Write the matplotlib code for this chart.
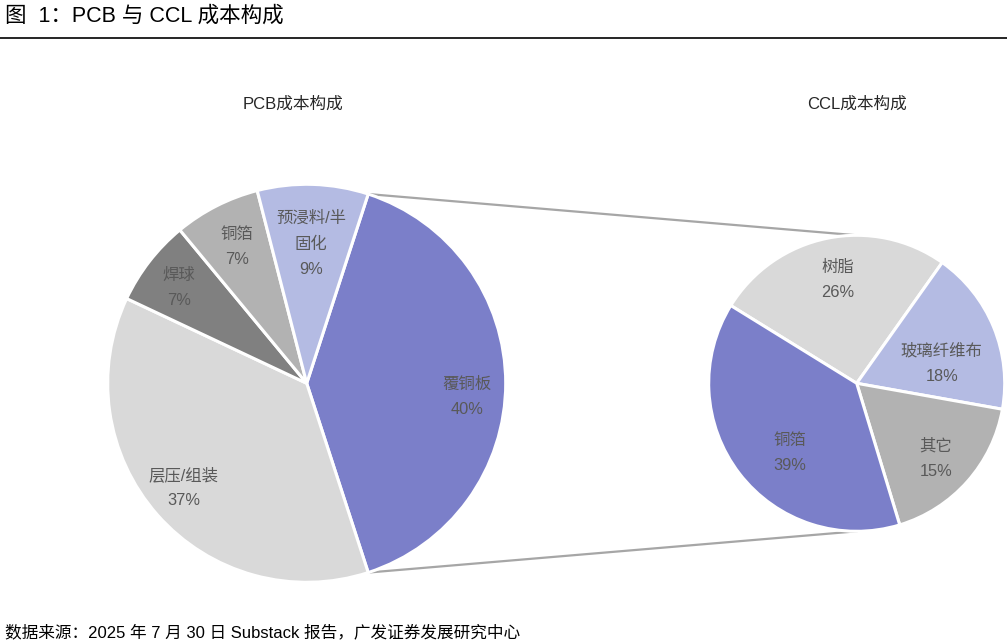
import numpy as np
import matplotlib
matplotlib.use("Agg")
import matplotlib.pyplot as plt

plt.rcParams['font.family'] = ['Liberation Sans', 'Noto Sans CJK SC', 'DejaVu Sans']

# PCB cost split (clockwise from the highlighted slice)
pcb_names = ["覆铜板", "层压/组装", "焊球", "铜箔", "预浸料/半\n固化"]
pcb_share = [40, 37, 7, 7, 9]
pcb_pct = ["40%", "37%", "7%", "7%", "9%"]

# CCL cost split (clockwise from 树脂)
ccl_names = ["树脂", "玻璃纤维布", "其它", "铜箔"]
ccl_share = [26, 18, 17.5, 38.5]
ccl_pct = ["26%", "18%", "15%", "39%"]

pcb_colors = ["#7b7fc9", "#d9d9d9", "#808080", "#b2b2b2", "#b4bbe3"]
ccl_colors = ["#d9d9d9", "#b4bbe3", "#b2b2b2", "#7b7fc9"]
txt_col = "#595959"

W, H = 1007, 643
fig = plt.figure(figsize=(W / 100, H / 100), dpi=100)
ax = fig.add_axes([0, 0, 1, 1])

# layout in pixels (y up)
c1, r1 = (306.7, 259.7), 199
c2, r2 = (856.7, 259.7), 148

wp = dict(edgecolor="white", linewidth=2.2)
start1 = 360 * pcb_share[0] / sum(pcb_share) / 2
w1, _ = ax.pie(pcb_share, colors=pcb_colors, startangle=start1, counterclock=False,
               center=c1, radius=r1, wedgeprops=wp, frame=True)
w2, _ = ax.pie(ccl_share, colors=ccl_colors, startangle=148.3, counterclock=False,
               center=c2, radius=r2, wedgeprops=wp, frame=True)
ax.set_xlim(0, W)
ax.set_ylim(0, H)
ax.set_aspect("equal")
ax.axis("off")

# label placement: (distance as fraction of radius, angle tweak in degrees)
def put_labels(wedges, names, pcts, center, radius, place):
    for w, n, p, (d, da) in zip(wedges, names, pcts, place):
        a = np.deg2rad((w.theta1 + w.theta2) / 2 + da)
        x = center[0] + d * radius * np.cos(a)
        y = center[1] + d * radius * np.sin(a)
        ax.text(x, y, n + "\n" + p, ha="center", va="center", fontsize=11.8,
                color=txt_col, linespacing=1.85)

put_labels(w1, pcb_names, pcb_pct, c1, r1,
           [(0.81, -5), (0.81, -1), (0.8, 1), (0.77, 0), (0.7, 0)])
put_labels(w2, ccl_names, ccl_pct, c2, r2,
           [(0.71, -1), (0.59, -9), (0.74, -2), (0.65, 8.5)])

# connector lines from highlighted slice to the second pie
big = w1[0]
for th, yy in [(big.theta2, c2[1] + r2), (big.theta1, c2[1] - r2)]:
    a = np.deg2rad(th)
    x0 = c1[0] + r1 * np.cos(a)
    y0 = c1[1] + r1 * np.sin(a)
    ax.plot([x0, c2[0]], [y0, yy], color="#a6a6a6", lw=1.6, zorder=0)

ax.text(293, H - 104, "PCB成本构成", ha="center", va="center", fontsize=12, color="#262626")
ax.text(857, H - 104, "CCL成本构成", ha="center", va="center", fontsize=12, color="#262626")

# header + footer
fig.text(5 / W, 1 - 16 / H, "图  1：PCB 与 CCL 成本构成", ha="left", va="center",
         fontsize=15.5, color="black")
ax.plot([0, W], [H - 38, H - 38], color="black", lw=1.2, clip_on=False)
fig.text(5 / W, 1 - 632 / H, "数据来源：2025 年 7 月 30 日 Substack 报告，广发证券发展研究中心",
         ha="left", va="center", fontsize=12, color="black")

fig.savefig("out.png", dpi=100)
